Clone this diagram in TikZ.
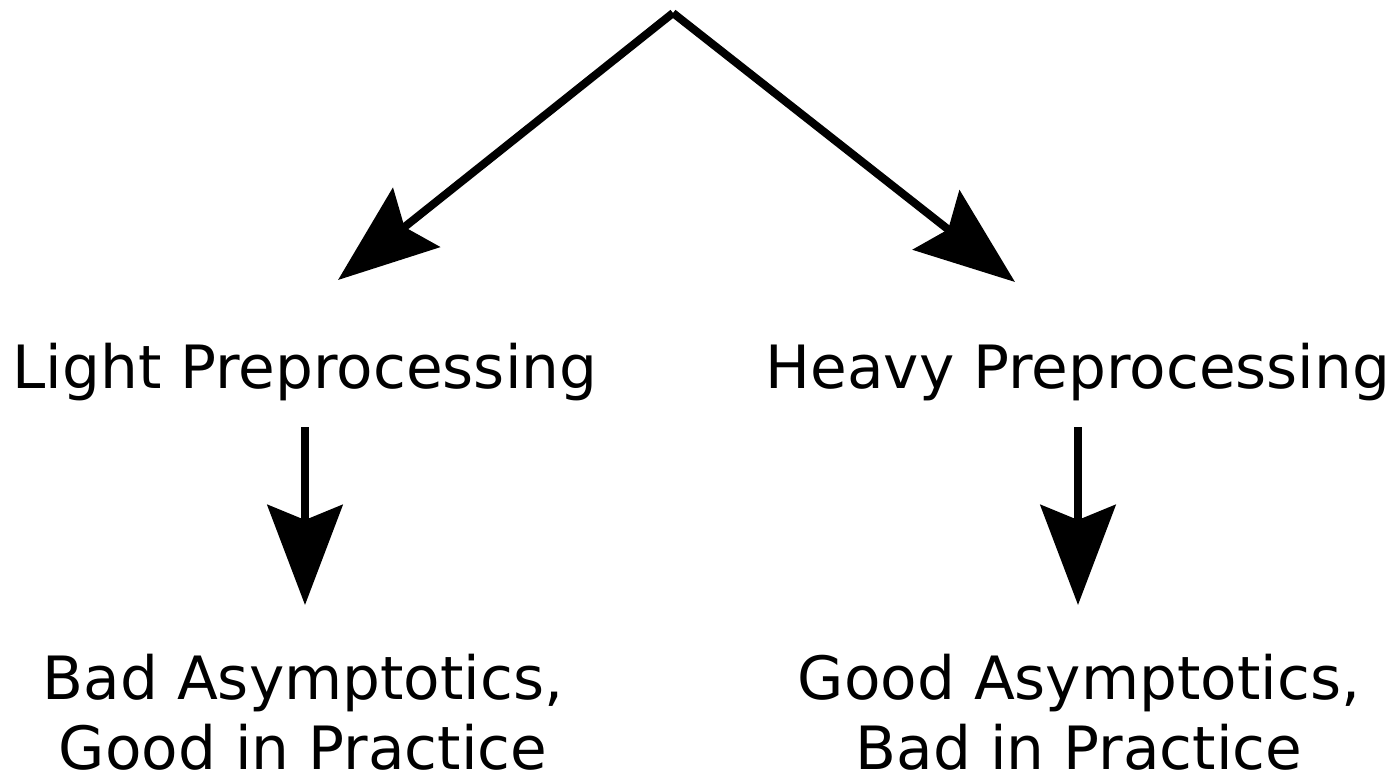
\documentclass[tikz,border=0pt]{standalone}
\usepackage{fontspec}
\setmainfont{DejaVu Sans}
\usetikzlibrary{arrows.meta}

\begin{document}
\begin{tikzpicture}[x=1pt,y=-1pt,line width=8pt,>={Stealth[length=100pt,width=75pt,inset=15pt]},
  every node/.style={inner sep=0pt,font=\fontsize{59.7}{70}\selectfont,align=center}]
 \useasboundingbox (0,0) rectangle (1393,773);

 \coordinate (top) at (673,13);
 \coordinate (ltip) at (338,280);
 \coordinate (rtip) at (1015,282);

 \node[anchor=base] (light) at (305,388) {Light Preprocessing};
 \node[anchor=base] (heavy) at (1078,388) {Heavy Preprocessing};
 \node[anchor=north] (lightres) at (303,650) {Bad Asymptotics,\\Good in Practice};
 \node[anchor=north] (heavyres) at (1079,650) {Good Asymptotics,\\Bad in Practice};

 \draw[->] (top) -- (ltip);
 \draw[->] (top) -- (rtip);
 \draw[->,shorten <=23pt,shorten >=45pt] (light.south) -- (light.south |- lightres.north);
 \draw[->,shorten <=23pt,shorten >=45pt] (heavy.south) -- (heavy.south |- heavyres.north);
\end{tikzpicture}
\end{document}
